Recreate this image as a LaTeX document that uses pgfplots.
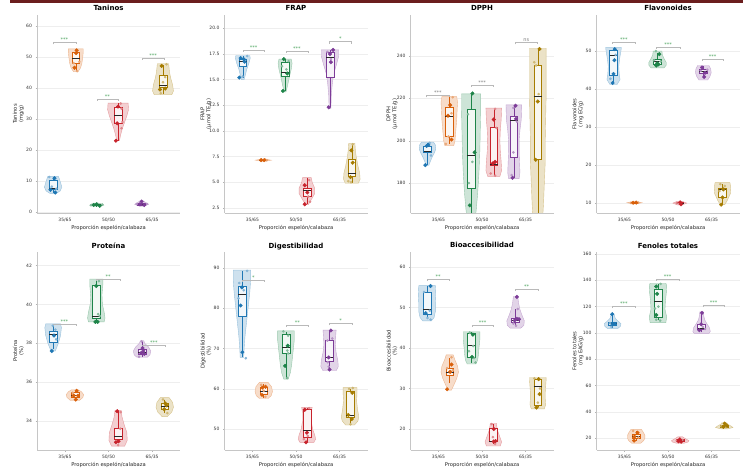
\documentclass[border=0pt]{standalone}
\usepackage{fontspec}
\setmainfont{DejaVu Sans}
\usepackage{pgfplots}
\pgfplotsset{compat=1.18}

\definecolor{cB}{HTML}{1F77B4}
\definecolor{cO}{HTML}{D9600A}
\definecolor{cG}{HTML}{1E8449}
\definecolor{cR}{HTML}{C8232C}
\definecolor{cP}{HTML}{7D3C98}
\definecolor{cY}{HTML}{A67C00}
\definecolor{cS}{HTML}{4CA55E}
\definecolor{cM}{HTML}{6B1E1E}

\def\stf{\fontsize{5}{5}\selectfont}

% violin: position, colour, list of y/halfwidth (bottom to top)
\newcommand\vio[3]{%
  \gdef\vR{}\gdef\vL{}%
  \foreach \yy/\ww in {#3}{%
    \pgfmathsetmacro\xr{#1+\ww}\pgfmathsetmacro\xl{#1-\ww}%
    \xdef\vR{\vR(\xr,\yy)}\xdef\vL{(\xl,\yy)\vL}}%
  \edef\tmp{\noexpand\addplot[fill=#2!22, draw=#2!45, line width=0.4pt] coordinates {\vR\vL} -- cycle;}\tmp}

% box: position, colour, lower whisker, q1, median, q3, upper whisker
\newcommand\bx[7]{%
  \pgfmathsetmacro\xa{#1-0.09}\pgfmathsetmacro\xb{#1+0.09}%
  \edef\tmp{%
    \noexpand\addplot[draw=#2, line width=0.5pt] coordinates {(#1,#3)(#1,#4)};
    \noexpand\addplot[draw=#2, line width=0.5pt] coordinates {(#1,#6)(#1,#7)};
    \noexpand\addplot[draw=#2, line width=0.6pt, fill=white, fill opacity=0.75]
      coordinates {(\xa,#4)(\xb,#4)(\xb,#6)(\xa,#6)} -- cycle;
    \noexpand\addplot[draw=black!85, line width=0.9pt] coordinates {(\xa,#5)(\xb,#5)};}\tmp}

% points: colour, big ones, small ones
\newcommand\pts[3]{%
  \addplot[only marks, mark=*, mark size=1.1pt, color=#1!55] coordinates {#3};
  \addplot[only marks, mark=*, mark size=1.8pt, color=#1] coordinates {#2};}

% bracket: x1, x2, height, drop, text, colour
\newcommand\brk[6]{%
  \pgfmathsetmacro\hd{#3-#4}\pgfmathsetmacro\xm{(#1+#2)/2}%
  \edef\tmp{\noexpand\addplot[gray!55, line width=0.45pt] coordinates {(#1,\hd)(#1,#3)(#2,#3)(#2,\hd)};
    \noexpand\node[font=\noexpand\stf, text=#6, inner sep=0.5pt, anchor=south] at (axis cs:\xm,#3) {#5};}\tmp}

\pgfplotsset{
  vp/.style={
    anchor=south west, width=143pt, height=198pt, scale only axis,
    xmin=-0.64, xmax=2.64,
    xtick={0,1,2}, xticklabels={35/65,50/50,65/35},
    axis x line*=bottom, axis y line*=left,
    axis line style={gray!45, line width=0.5pt, -},
    ymajorgrids, grid style={gray!13, line width=0.4pt},
    tick style={gray!60, line width=0.4pt}, major tick length=1.5pt, tick align=outside,
    tick label style={font=\fontsize{4.5}{5}\selectfont, text=black!80},
    /pgf/number format/assume math mode=true,
    xlabel={Proporción espelón/calabaza},
    xlabel style={at={(axis description cs:0.5,-0.078)}, anchor=center, font=\fontsize{5.2}{6}\selectfont, text=black!85},
    ylabel style={at={(axis description cs:-0.13,0.5)}, anchor=center, align=center, font=\fontsize{5.2}{6}\selectfont, text=black!85},
    title style={at={(0.5,1)}, anchor=base, yshift=-2pt, inner sep=0pt, font=\bfseries\fontsize{7}{8}\selectfont},
  }
}

\begin{document}
\begin{tikzpicture}
\fill[white] (0,0) rectangle (749pt,474pt);

% ---------- Taninos
\begin{axis}[vp, at={(37pt,261pt)}, title={Taninos}, ylabel={Taninos\\(mg/g)},
  ymin=-0.3, ymax=63.5, ytick={0,10,...,60}]
\vio{-0.27}{cB}{6.0/0.07, 6.8/0.16, 8/0.2, 9.5/0.17, 10.8/0.14, 11.5/0.12}
\bx{-0.27}{cB}{6.3}{7.2}{7.6}{10.2}{11.3}
\pts{cB}{(-0.24,10.9)(-0.33,7.2)(-0.22,6.3)}{(-0.36,11.3)(-0.2,7.5)(-0.3,8.2)}
\vio{0.25}{cO}{45.2/0.05, 46.5/0.11, 48/0.14, 50/0.16, 51.5/0.17, 52.6/0.17}
\bx{0.25}{cO}{45.6}{47.8}{49.6}{51.6}{52.4}
\pts{cO}{(0.27,52.1)(0.26,51.2)(0.22,46.5)}{(0.33,48.4)(0.28,45.4)(0.2,48.0)}
\vio{0.73}{cG}{1.8/0.05, 2.2/0.16, 2.6/0.12, 2.9/0.04}
\bx{0.73}{cG}{1.9}{2.1}{2.3}{2.5}{2.7}
\pts{cG}{(0.73,2.5)(0.8,2.0)(0.66,2.3)}{(0.6,2.2)(0.86,2.4)}
\vio{1.22}{cR}{23/0.03, 25/0.06, 27/0.1, 29/0.15, 31/0.2, 33/0.24, 35.1/0.23}
\bx{1.22}{cR}{23}{28.5}{31}{33.8}{35}
\pts{cR}{(1.22,34.0)(1.2,28.6)(1.17,23.0)}{(1.28,35.0)(1.3,33.3)(1.3,27)(1.32,29)}
\vio{1.76}{cP}{1.9/0.05, 2.5/0.16, 3.0/0.1, 3.6/0.04}
\bx{1.76}{cP}{2.1}{2.3}{2.5}{2.7}{3.3}
\pts{cP}{(1.76,3.4)(1.72,2.5)(1.82,2.3)}{(1.65,2.6)(1.88,2.6)}
\vio{2.25}{cY}{37.8/0.2, 39/0.24, 41/0.22, 43/0.18, 45/0.15, 47.8/0.13}
\bx{2.25}{cY}{38}{40.3}{40.8}{44.2}{47.5}
\pts{cY}{(2.22,47.1)(2.18,39.5)(2.3,39.8)}{(2.3,43.5)(2.33,47.6)(2.25,41.8)(2.2,38.3)}
\brk{-0.27}{0.25}{54.6}{0.6}{***}{cS}
\brk{0.73}{1.22}{36.4}{0.6}{**}{cS}
\brk{1.78}{2.27}{49.7}{0.6}{***}{cS}
\end{axis}

% ---------- FRAP
\begin{axis}[vp, at={(224.5pt,261pt)}, title={FRAP}, ylabel={FRAP\\(µmol TE/g)},
  ymin=2.0, ymax=21.3, ytick={2.5,5,...,20},
  yticklabel style={/pgf/number format/.cd, fixed, fixed zerofill, precision=1}]
\vio{-0.22}{cB}{15.0/0.03, 15.5/0.06, 16.0/0.09, 16.6/0.14, 17.1/0.17, 17.35/0.16}
\bx{-0.22}{cB}{15.2}{16.3}{16.8}{17.0}{17.3}
\pts{cB}{(-0.27,17.1)(-0.18,16.75)(-0.3,15.2)(-0.2,17.0)}{(-0.12,17.3)(-0.22,15.3)}
\vio{0.25}{cO}{7.05/0.05, 7.15/0.18, 7.25/0.05}
\bx{0.25}{cO}{7.1}{7.12}{7.15}{7.18}{7.2}
\pts{cO}{(0.2,7.15)(0.27,7.15)}{(0.33,7.15)(0.3,7.2)}
\vio{0.75}{cG}{13.8/0.02, 14.5/0.06, 15.3/0.1, 16.0/0.14, 16.6/0.16, 17.0/0.14}
\bx{0.75}{cG}{13.9}{15.3}{15.7}{16.7}{17.0}
\pts{cG}{(0.72,17.0)(0.8,15.6)(0.7,13.9)}{(0.78,16.0)(0.83,16.8)(0.68,16.3)}
\vio{1.25}{cR}{2.8/0.03, 3.3/0.1, 3.9/0.18, 4.4/0.18, 5.0/0.12, 5.45/0.1}
\bx{1.25}{cR}{2.85}{3.6}{4.15}{4.4}{5.4}
\pts{cR}{(1.2,4.7)(1.26,4.0)(1.2,2.85)}{(1.32,3.1)(1.3,5.2)(1.28,3.6)}
\vio{1.78}{cP}{12.2/0.02, 13.5/0.03, 14.5/0.05, 15.5/0.08, 16.5/0.15, 17.3/0.2, 17.9/0.2}
\bx{1.78}{cP}{12.3}{15.2}{17.2}{17.7}{17.9}
\pts{cP}{(1.85,17.9)(1.78,17.5)(1.8,16.7)(1.75,12.3)}{(1.72,17.7)(1.8,17.0)}
\vio{2.28}{cY}{4.9/0.15, 5.3/0.19, 5.9/0.18, 6.6/0.14, 7.5/0.1, 8.2/0.08, 8.8/0.07}
\bx{2.28}{cY}{4.95}{5.6}{5.9}{7.2}{8.7}
\pts{cY}{(2.27,8.1)(2.3,6.9)(2.25,5.5)}{(2.3,8.7)(2.2,5.1)(2.26,5.0)}
\brk{-0.22}{0.28}{17.9}{0.19}{***}{cS}
\brk{0.77}{1.27}{17.8}{0.19}{***}{cS}
\brk{1.77}{2.27}{18.7}{0.19}{*}{cS}
\end{axis}

% ---------- DPPH
\begin{axis}[vp, at={(410.5pt,261pt)}, title={DPPH}, ylabel={DPPH\\(µmol TE/g)},
  ymin=165.9, ymax=259.3, ytick={180,200,...,240}]
\vio{-0.25}{cB}{188.4/0.03, 190/0.06, 192/0.1, 194/0.15, 196/0.19, 198/0.18, 199.3/0.14}
\bx{-0.25}{cB}{188.5}{194.5}{195}{197.3}{199}
\pts{cB}{(-0.27,197.5)(-0.23,198)(-0.3,188.5)}{(-0.17,193)(-0.2,199)}
\vio{0.25}{cO}{197.6/0.1, 200/0.13, 205/0.15, 210/0.17, 215/0.18, 218/0.19, 220.8/0.17}
\bx{0.25}{cO}{198.5}{202}{211.5}{215.8}{220.5}
\pts{cO}{(0.27,216.8)(0.22,211.8)(0.3,200.5)}{(0.33,220.5)(0.17,198.5)(0.3,213)(0.23,202)}
\vio{0.75}{cG}{160/0.08, 168/0.12, 175/0.15, 185/0.18, 195/0.2, 205/0.21, 215/0.22, 222.1/0.22}
\bx{0.75}{cG}{160}{177.7}{193.1}{214.9}{222}
\pts{cG}{(0.78,222.3)(0.83,194.5)(0.72,169.5)}{(0.68,212.5)(0.78,190)(0.7,180)}
\vio{1.27}{cR}{183.2/0.14, 186/0.18, 190/0.17, 195/0.15, 200/0.14, 205/0.15, 210/0.17, 215.4/0.18}
\bx{1.27}{cR}{183.5}{188.5}{189}{206.4}{215}
\pts{cR}{(1.27,210)(1.3,190)(1.25,189.3)}{(1.33,206)(1.2,184.5)(1.3,183.5)(1.3,215)}
\vio{1.73}{cP}{182.1/0.12, 185/0.14, 190/0.13, 195/0.12, 200/0.12, 205/0.14, 210/0.17, 216.9/0.18}
\bx{1.73}{cP}{182.5}{192.1}{209.5}{211.5}{217}
\pts{cP}{(1.77,216.5)(1.78,210.3)(1.7,182.5)}{(1.72,215.5)(1.8,209)(1.68,183.8)(1.72,194.5)}
\vio{2.28}{cY}{160/0.1, 170/0.13, 180/0.15, 190/0.17, 200/0.17, 210/0.18, 220/0.19, 230/0.19, 243.6/0.19}
\bx{2.28}{cY}{160}{191}{220.8}{235.8}{243.3}
\pts{cY}{(2.32,243.3)(2.28,218.5)(2.23,191)}{(2.2,237)(2.24,235.5)(2.3,222)}
\brk{-0.27}{0.24}{221.3}{0.9}{***}{gray}
\brk{0.75}{1.25}{226.3}{0.9}{***}{gray}
\brk{1.76}{2.27}{246.4}{0.9}{ns}{gray}
\end{axis}

% ---------- Flavonoides
\begin{axis}[vp, at={(596.5pt,261pt)}, title={Flavonoides}, ylabel={Flavonoides\\(mg EC/g)},
  ymin=7.4, ymax=59.5, ytick={10,20,...,50}]
\vio{-0.25}{cB}{41.2/0.08, 42.5/0.15, 44/0.13, 46/0.12, 48/0.14, 50/0.17, 50.9/0.18}
\bx{-0.25}{cB}{41.5}{43.7}{48.9}{50.3}{50.6}
\pts{cB}{(-0.22,50.5)(-0.23,47.6)(-0.25,44)(-0.27,41.6)}{(-0.32,42.7)(-0.2,49)}
\vio{0.23}{cO}{9.8/0.04, 10.1/0.17, 10.4/0.05}
\bx{0.23}{cO}{9.95}{10.05}{10.1}{10.15}{10.2}
\pts{cO}{(0.2,10.1)(0.27,10.15)}{(0.32,10.1)(0.15,10.05)}
\vio{0.76}{cG}{45.6/0.15, 46.3/0.2, 47/0.2, 48/0.15, 49/0.11, 50/0.1}
\bx{0.76}{cG}{46}{46.6}{47.2}{47.8}{49.5}
\pts{cG}{(0.8,49.2)(0.75,46.8)(0.73,46.2)(0.78,46.5)}{(0.72,50)(0.68,47.6)(0.83,47.3)}
\vio{1.27}{cR}{9.5/0.05, 10/0.16, 10.5/0.05}
\bx{1.27}{cR}{9.7}{9.85}{10}{10.1}{10.2}
\pts{cR}{(1.28,10.2)(1.3,9.7)}{(1.2,10)(1.25,9.9)}
\vio{1.81}{cP}{42.4/0.1, 43.3/0.15, 44.3/0.18, 45.3/0.17, 46.2/0.13}
\bx{1.81}{cP}{43.2}{44.2}{44.7}{45.3}{46}
\pts{cP}{(1.78,45.7)(1.85,44.3)(1.83,43.2)}{(1.75,44.8)(1.9,45.1)}
\vio{2.25}{cY}{9.6/0.05, 10.5/0.1, 11.5/0.14, 12.5/0.18, 14/0.19, 15.4/0.17}
\bx{2.25}{cY}{9.8}{11.5}{13.5}{14.0}{15}
\pts{cY}{(2.25,11.5)(2.22,9.6)(2.27,13.6)}{(2.2,15)(2.3,14.5)(2.18,13.2)}
\brk{-0.27}{0.25}{52.4}{0.5}{***}{cS}
\brk{0.74}{1.27}{51.1}{0.5}{***}{cS}
\brk{1.78}{2.27}{47.9}{0.5}{***}{cS}
\end{axis}

% ---------- Proteína
\begin{axis}[vp, at={(37pt,24pt)}, title={Proteína}, ylabel={Proteína\\(\%)},
  ymin=32.5, ymax=42.7, ytick={34,36,...,42}]
\vio{-0.27}{cB}{37.6/0.05, 38.0/0.12, 38.4/0.17, 38.8/0.19, 39.0/0.17}
\bx{-0.27}{cB}{37.7}{38.04}{38.44}{38.6}{38.9}
\pts{cB}{(-0.25,38.4)(-0.3,37.6)}{(-0.28,38.9)(-0.22,38.7)(-0.2,38.2)}
\vio{0.23}{cO}{35.05/0.1, 35.2/0.18, 35.35/0.2, 35.5/0.15, 35.6/0.08}
\bx{0.23}{cO}{35.1}{35.2}{35.3}{35.45}{35.55}
\pts{cO}{(0.27,35.55)(0.2,35.3)(0.25,35.1)(0.3,35.3)}{(0.18,35.45)}
\vio{0.72}{cG}{39.1/0.18, 39.3/0.2, 39.6/0.18, 40.0/0.14, 40.5/0.13, 41.0/0.15, 41.3/0.15}
\bx{0.72}{cG}{39.1}{39.3}{39.38}{40.97}{41.25}
\pts{cG}{(0.72,40.95)(0.7,39.1)(0.75,39.1)}{(0.78,41.2)(0.8,39.4)(0.76,39.5)}
\vio{1.22}{cR}{32.7/0.15, 33.0/0.21, 33.4/0.2, 33.8/0.14, 34.2/0.09, 34.55/0.07}
\bx{1.22}{cR}{32.9}{33.05}{33.19}{33.6}{34.5}
\pts{cR}{(1.2,34.5)(1.17,32.9)(1.23,32.95)}{(1.28,34.45)(1.27,33.6)(1.22,32.75)}
\vio{1.77}{cP}{37.28/0.12, 37.4/0.18, 37.6/0.2, 37.8/0.15, 38.0/0.06, 38.13/0.04}
\bx{1.77}{cP}{37.3}{37.45}{37.55}{37.7}{38.1}
\pts{cP}{(1.78,37.75)(1.82,37.45)(1.75,37.5)(1.8,37.6)}{(1.76,38.1)(1.7,37.3)}
\vio{2.29}{cY}{34.22/0.06, 34.45/0.16, 34.7/0.2, 34.95/0.18, 35.2/0.1}
\bx{2.29}{cY}{34.4}{34.6}{34.75}{34.9}{35.1}
\pts{cY}{(2.3,34.9)(2.28,34.6)(2.33,34.8)}{(2.25,35.1)(2.35,34.4)}
\brk{-0.27}{0.25}{39.0}{0.1}{***}{cS}
\brk{0.72}{1.26}{41.31}{0.1}{**}{cS}
\brk{1.78}{2.3}{37.92}{0.1}{***}{cS}
\end{axis}

% ---------- Digestibilidad
\begin{axis}[vp, at={(224.5pt,24pt)}, title={Digestibilidad}, ylabel={Digestibilidad\\(\%)},
  ymin=44.8, ymax=94, ytick={50,60,...,90}]
\vio{-0.24}{cB}{67.8/0.04, 70/0.05, 73/0.07, 76/0.1, 80/0.14, 84/0.18, 87/0.2, 89.5/0.2}
\bx{-0.24}{cB}{67.8}{77.9}{83.4}{85.5}{89.3}
\pts{cB}{(-0.24,85.2)(-0.27,80.7)(-0.23,69.1)}{(-0.3,86.3)(-0.32,82.5)(-0.2,84.5)(-0.12,89.3)(-0.15,67.6)}
\vio{0.26}{cO}{57.6/0.1, 58.3/0.17, 59.3/0.2, 60.5/0.18, 61.6/0.1}
\bx{0.26}{cO}{57.8}{58.6}{59.4}{60.4}{61.3}
\pts{cO}{(0.23,60.3)(0.3,60.5)(0.22,58.5)}{(0.2,61)(0.3,58)(0.26,59.5)}
\vio{0.77}{cG}{62.4/0.05, 64/0.1, 66/0.13, 68/0.15, 70/0.17, 72/0.19, 74.4/0.19}
\bx{0.77}{cG}{62.5}{68.8}{70.3}{73.6}{74.2}
\pts{cG}{(0.81,70.7)(0.75,65.7)}{(0.71,74.3)(0.82,73.2)(0.8,69.5)(0.82,68.8)(0.8,62.7)}
\vio{1.25}{cR}{46.7/0.16, 47.5/0.2, 48.5/0.18, 50/0.13, 52/0.1, 54/0.1, 55.4/0.12}
\bx{1.25}{cR}{46.7}{47.9}{49.75}{55}{55.2}
\pts{cR}{(1.25,49.1)(1.23,46.7)(1.2,54.8)}{(1.3,55.2)(1.18,47.5)(1.27,48.3)}
\vio{1.77}{cP}{64.5/0.15, 65.5/0.2, 67/0.19, 69/0.15, 71/0.13, 73/0.14, 74.6/0.15}
\bx{1.77}{cP}{64.8}{66.8}{67.7}{72}{74.5}
\pts{cP}{(1.8,74.5)(1.75,67.8)(1.77,64.8)}{(1.72,72)(1.83,72.5)(1.75,65.5)(1.73,66.6)}
\vio{2.24}{cY}{51/0.1, 52/0.18, 53/0.2, 55/0.17, 57/0.15, 59/0.16, 60.3/0.16}
\bx{2.24}{cY}{51.2}{52.9}{53.5}{59.4}{60}
\pts{cY}{(2.29,59.0)(2.2,53.5)(2.28,52.5)}{(2.22,60)(2.3,60.2)(2.25,51.2)}
\brk{-0.24}{0.28}{87.1}{0.5}{*}{cS}
\brk{0.77}{1.29}{75.9}{0.5}{**}{cS}
\brk{1.77}{2.28}{76.3}{0.5}{*}{cS}
\end{axis}

% ---------- Bioaccesibilidad
\begin{axis}[vp, at={(410.5pt,24pt)}, title={Bioaccesibilidad}, ylabel={Bioaccesibilidad\\(\%)},
  ymin=14.8, ymax=63.7, ytick={20,30,...,60}]
\vio{-0.26}{cB}{46.7/0.1, 47.5/0.16, 49/0.19, 51/0.19, 53/0.2, 55.4/0.19}
\bx{-0.26}{cB}{47.1}{48.3}{49.6}{53.8}{55.2}
\pts{cB}{(-0.18,55.3)(-0.29,48.6)}{(-0.33,53.8)(-0.2,49.2)(-0.25,47.4)(-0.18,47)}
\vio{0.26}{cO}{29.6/0.04, 31/0.1, 32.5/0.16, 34/0.2, 35.5/0.18, 37/0.12, 38.3/0.08}
\bx{0.26}{cO}{31.3}{33.3}{33.9}{34.9}{37.6}
\pts{cO}{(0.3,35.9)(0.27,34.1)(0.2,29.8)}{(0.3,37.7)(0.2,35)(0.33,34.5)}
\vio{0.76}{cG}{36.05/0.1, 37/0.14, 38.5/0.16, 40/0.17, 42/0.19, 44/0.19}
\bx{0.76}{cG}{36.3}{37.7}{40.7}{43.6}{43.9}
\pts{cG}{(0.79,43.3)(0.77,37.8)}{(0.72,43.8)(0.7,39.2)(0.82,37.5)(0.85,36.4)(0.8,40.5)}
\vio{1.26}{cR}{15.8/0.16, 16.8/0.19, 18/0.15, 19.5/0.1, 20.5/0.08, 21.4/0.07}
\bx{1.26}{cR}{16.3}{17.0}{17.0}{20.2}{21.2}
\pts{cR}{(1.27,16.9)(1.31,17.0)(1.27,20.0)}{(1.22,21.2)(1.3,16.3)(1.25,18)}
\vio{1.77}{cP}{44.9/0.12, 45.6/0.19, 46.7/0.2, 48/0.15, 49.5/0.1, 51/0.07, 52.7/0.05}
\bx{1.77}{cP}{45.4}{46.3}{46.7}{47.3}{49.7}
\pts{cP}{(1.8,52.6)(1.8,47.2)(1.75,46.8)(1.85,47.1)}{(1.72,46)(1.78,45.5)(1.82,49.6)}
\vio{2.28}{cY}{24.95/0.15, 26/0.18, 27.5/0.17, 29/0.17, 30.5/0.18, 32/0.19, 32.7/0.19}
\bx{2.28}{cY}{25.3}{25.8}{30.5}{32.3}{32.5}
\pts{cY}{(2.32,28.6)(2.3,32.3)(2.25,25.3)}{(2.28,26.5)(2.33,30)(2.2,32.5)}
\brk{-0.26}{0.25}{57.0}{0.5}{**}{cS}
\brk{0.77}{1.26}{45.7}{0.5}{***}{cS}
\brk{1.77}{2.28}{54.6}{0.5}{**}{cS}
\end{axis}

% ---------- Fenoles totales
\begin{axis}[vp, at={(596.5pt,24pt)}, title={Fenoles totales}, ylabel={Fenoles totales\\(mg EAG/g)},
  ymin=10.9, ymax=161.5, ytick={20,40,...,160}]
\vio{-0.27}{cB}{103.4/0.12, 105/0.18, 107/0.19, 109/0.12, 111/0.06, 114.4/0.03}
\bx{-0.27}{cB}{104}{106}{107}{107.8}{114}
\pts{cB}{(-0.28,114.2)(-0.27,106.5)(-0.22,106.8)}{(-0.33,107.3)(-0.3,104.5)}
\vio{0.27}{cO}{16/0.1, 18/0.17, 20/0.2, 22/0.2, 24/0.17, 26.6/0.12}
\bx{0.27}{cO}{18}{19.5}{21}{23}{25.5}
\pts{cO}{(0.3,24)(0.23,21)(0.22,18)}{(0.2,25.5)(0.32,20.5)}
\vio{0.77}{cG}{107.8/0.18, 112/0.2, 118/0.16, 124/0.17, 130/0.19, 136/0.2, 137.7/0.18}
\bx{0.77}{cG}{109.5}{112}{123.7}{133.5}{137}
\pts{cG}{(0.73,135.3)(0.75,129.7)(0.73,113.6)}{(0.83,137.2)(0.78,120)(0.7,118.5)(0.82,109.3)(0.73,110)}
\vio{1.28}{cR}{16/0.08, 17/0.18, 18/0.2, 19.5/0.12, 21/0.05}
\bx{1.28}{cR}{17}{17.4}{18}{18.8}{19.5}
\pts{cR}{(1.27,19)(1.24,17.5)(1.3,17.2)}{(1.33,18.5)(1.2,18)}
\vio{1.77}{cP}{99.6/0.17, 101/0.2, 104/0.18, 107/0.12, 110/0.07, 113/0.05, 116/0.04}
\bx{1.77}{cP}{100.3}{102.5}{103.4}{106.3}{115}
\pts{cP}{(1.78,115.2)(1.76,106.5)(1.72,102)}{(1.8,104.5)(1.85,103)}
\vio{2.29}{cY}{27/0.08, 28/0.2, 29/0.16, 30.5/0.08, 31.5/0.06}
\bx{2.29}{cY}{28}{28.4}{29}{30}{31}
\pts{cY}{(2.3,31.0)(2.27,28.5)(2.35,29.5)}{(2.22,29)(2.33,28.2)}
\brk{-0.27}{0.24}{120.4}{1.5}{***}{cS}
\brk{0.73}{1.25}{141}{1.5}{***}{cS}
\brk{1.8}{2.29}{121.2}{1.5}{***}{cS}
\end{axis}

\fill[cM] (10pt,471pt) rectangle (743pt,474pt);
\end{tikzpicture}
\end{document}
